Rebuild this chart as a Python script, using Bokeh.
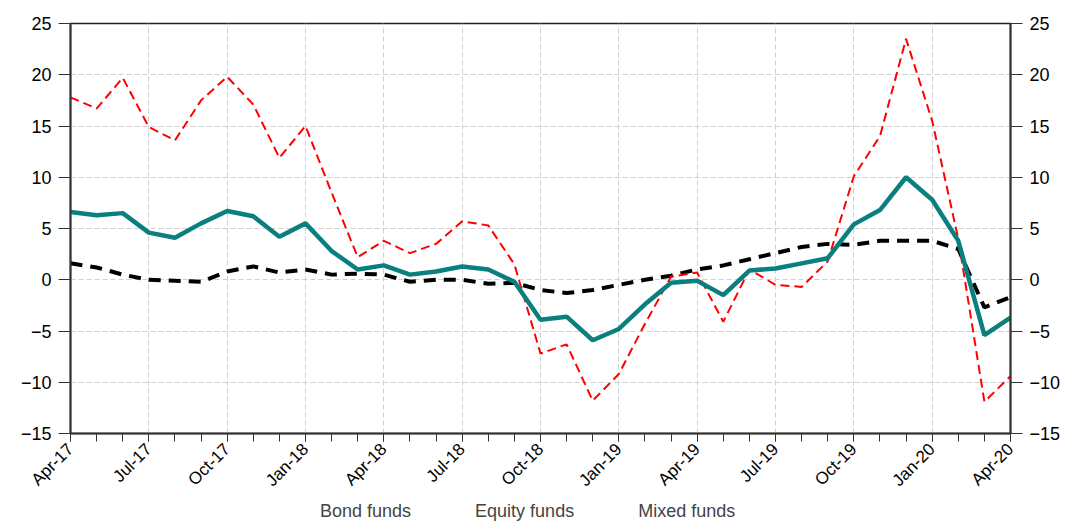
from math import pi
from bokeh.plotting import figure
from bokeh.layouts import column
from bokeh.models import Range1d, LinearAxis, FixedTicker, Legend, LegendItem
from bokeh.embed import file_html
from bokeh.resources import INLINE

# Monthly data, Apr-17 .. Apr-20
quarter_labels = ["Apr-17", "Jul-17", "Oct-17", "Jan-18", "Apr-18", "Jul-18", "Oct-18",
                  "Jan-19", "Apr-19", "Jul-19", "Oct-19", "Jan-20", "Apr-20"]

bond_funds = [1.6, 1.2, 0.5, 0.0, -0.1, -0.2, 0.8, 1.3, 0.7, 1.0, 0.5, 0.6,
              0.5, -0.2, 0.0, 0.0, -0.4, -0.3, -1.0, -1.3, -1.0, -0.5, 0.0, 0.4,
              1.0, 1.4, 2.0, 2.6, 3.2, 3.5, 3.4, 3.8, 3.8, 3.8, 3.0, -2.7,
              -1.7]
equity_funds = [17.8, 16.7, 19.7, 14.9, 13.6, 17.5, 19.8, 17.1, 11.9, 15.0, 8.5, 2.2,
                3.8, 2.6, 3.5, 5.7, 5.3, 1.5, -7.2, -6.3, -11.8, -9.2, -4.3, 0.3,
                0.7, -4.1, 1.0, -0.5, -0.7, 1.8, 10.1, 14.0, 23.5, 15.5, 4.0, -11.9,
                -9.4]
mixed_funds = [6.6, 6.3, 6.5, 4.6, 4.1, 5.5, 6.7, 6.2, 4.2, 5.5, 2.8, 1.0,
               1.4, 0.5, 0.8, 1.3, 1.0, -0.2, -3.9, -3.6, -5.9, -4.8, -2.4, -0.3,
               -0.1, -1.5, 0.9, 1.1, 1.6, 2.1, 5.4, 6.8, 10.0, 7.8, 3.8, -5.4,
               -3.7]

series_names = ["Bond funds", "Equity funds", "Mixed funds"]

x = list(range(len(bond_funds)))
FONT = "Liberation Sans"

p = figure(width=1063, height=499, output_backend="svg", toolbar_location=None,
           x_range=Range1d(0, len(x) - 1), y_range=Range1d(-15, 25),
           min_border_left=70, min_border_top=23, min_border_right=10, min_border_bottom=0,
           background_fill_color="white", border_fill_color="white")
p.outline_line_color = "#222222"
p.outline_line_width = 1.5

major = [i * 3 for i in range(len(quarter_labels))]
p.xaxis.ticker = FixedTicker(ticks=major, minor_ticks=x)
p.xaxis.major_label_overrides = {m: lab for m, lab in zip(major, quarter_labels)}
p.xaxis.major_label_orientation = pi / 4
p.yaxis.ticker = FixedTicker(ticks=[-15, -10, -5, 0, 5, 10, 15, 20, 25])

right = LinearAxis(ticker=FixedTicker(ticks=[-15, -10, -5, 0, 5, 10, 15, 20, 25]))
p.add_layout(right, "right")

for ax in p.axis:
    ax.axis_line_color = "#333333"
    ax.axis_line_width = 2
    ax.major_tick_line_color = "#333333"
    ax.minor_tick_line_color = "#333333"
    ax.major_tick_in = 0
    ax.minor_tick_in = 0
    ax.major_label_text_font = FONT
    ax.major_label_text_color = "black"

p.xaxis.major_tick_out = 8
p.xaxis.minor_tick_out = 8
p.xaxis.major_label_text_font_size = "17px"
p.xaxis.major_label_standoff = 5
for ax in (p.yaxis[0], right):
    ax.major_tick_out = 12
    ax.minor_tick_line_color = None
    ax.major_label_text_font_size = "18px"
    ax.major_label_standoff = 7

p.xgrid.ticker = FixedTicker(ticks=major)
for g in (p.xgrid, p.ygrid):
    g.grid_line_color = "#cfcfcf"
    g.grid_line_dash = "5 3"
    g.grid_line_width = 1

styles = [dict(line_color="black", line_width=4, line_dash="12 8"),
          dict(line_color="#ff0000", line_width=2, line_dash="9 5"),
          dict(line_color="#0a7f7f", line_width=4.5)]
for vals, st in zip([bond_funds, equity_funds, mixed_funds], styles):
    p.line(x, vals, **st)

# Legend strip below the chart (separate small figure so it stays visible)
lg = figure(width=1063, height=26, output_backend="svg", toolbar_location=None,
            x_range=Range1d(0, 1), y_range=Range1d(0, 1),
            x_axis_type=None, y_axis_type=None, min_border=0,
            background_fill_color="white", border_fill_color="white")
lg.outline_line_color = None
lg.grid.visible = False
proxies = [lg.line(x=[], y=[], **st) for st in styles]

legend = Legend(items=[LegendItem(label=n, renderers=[r]) for n, r in zip(series_names, proxies)],
                orientation="horizontal", location=(200, 3))
legend.label_text_font = FONT
legend.label_text_font_size = "18px"
legend.label_height = 18
legend.glyph_height = 18
legend.glyph_width = 45
legend.spacing = 14
legend.padding = 0
legend.margin = 0
legend.border_line_color = None
legend.background_fill_alpha = 0
lg.add_layout(legend, "center")

layout = column(p, lg, spacing=0)
open("out.html", "w").write(file_html(layout, INLINE))
